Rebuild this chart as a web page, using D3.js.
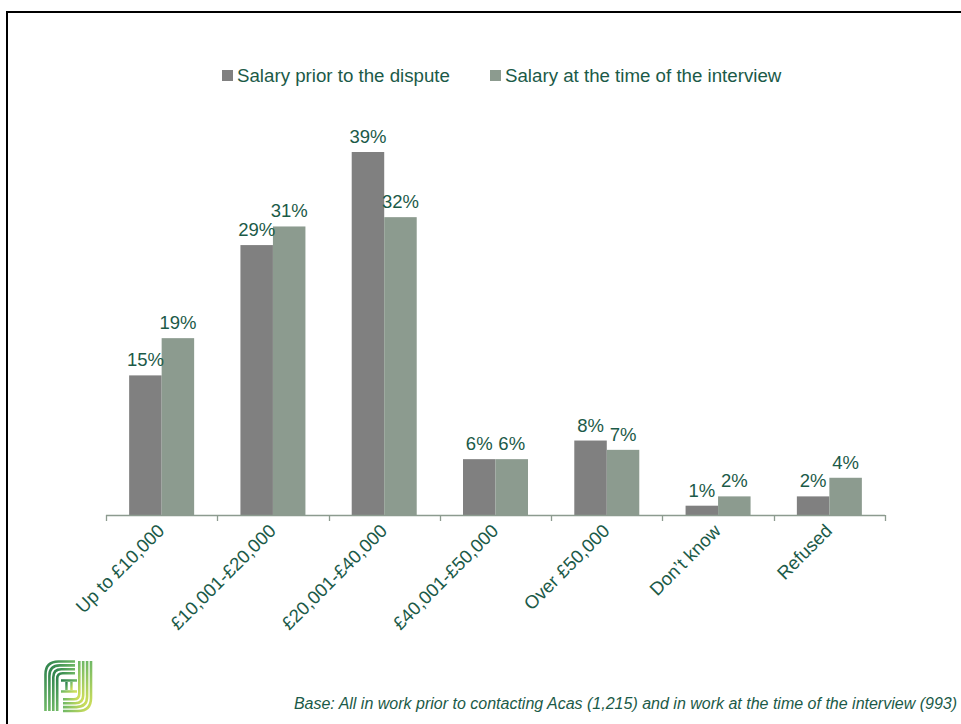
<!DOCTYPE html>
<html>
<head>
<meta charset="utf-8">
<script src="https://cdn.jsdelivr.net/npm/d3@7"></script>
<style>
  html, body { margin: 0; padding: 0; background: #fff; }
  svg { display: block; }
  text { font-family: "Liberation Sans", Arial, sans-serif; }
</style>
</head>
<body>
<script>
// Salary bands and the share of respondents in each
const categories = ["Up to £10,000", "£10,001-£20,000", "£20,001-£40,000", "£40,001-£50,000", "Over £50,000", "Don’t know", "Refused"];
const seriesNames = ["Salary prior to the dispute", "Salary at the time of the interview"];
const priorValues = [15, 29, 39, 6, 8, 1, 2];
const interviewValues = [19, 31, 32, 6, 7, 2, 4];
const footnote = "Base: All in work prior to contacting Acas (1,215) and in work at the time of the interview (993)";

const W = 961, H = 724;
const textColor = "#1b5a48";
const colors = ["#808080", "#8c9b8f"];
const axisColor = "#8c9b8f";

const svg = d3.select("body").append("svg").attr("width", W).attr("height", H);

// Slide frame
svg.append("path")
  .attr("d", "M7,724 V12 H961")
  .attr("fill", "none").attr("stroke", "#000").attr("stroke-width", 2);

const x0 = d3.scaleBand().domain(categories).range([106, 885]).paddingInner(0).paddingOuter(0);
const x1 = d3.scaleBand().domain([0, 1]).range([0, x0.bandwidth()]).paddingInner(0).paddingOuter(0.712);
const y = d3.scaleLinear().domain([0, 40]).range([515, 142.7]);

const rows = categories.map((c, i) => ({ c, vals: [priorValues[i], interviewValues[i]] }));

const g = svg.append("g");
const groups = g.selectAll("g.cat").data(rows).join("g")
  .attr("transform", d => `translate(${x0(d.c)},0)`);

groups.selectAll("rect").data(d => d.vals.map((v, k) => ({ v, k }))).join("rect")
  .attr("x", d => x1(d.k))
  .attr("width", x1.bandwidth())
  .attr("y", d => y(d.v))
  .attr("height", d => y(0) - y(d.v))
  .attr("fill", d => colors[d.k]);

groups.selectAll("text.val").data(d => d.vals.map((v, k) => ({ v, k }))).join("text")
  .attr("class", "val")
  .attr("x", d => x1(d.k) + x1.bandwidth() / 2)
  .attr("y", d => y(d.v) - 9)
  .attr("text-anchor", "middle")
  .attr("font-size", 18.5)
  .attr("fill", textColor)
  .text(d => d.v + "%");

// Category axis with ticks at band boundaries
const axisG = svg.append("g");
axisG.append("line")
  .attr("x1", 106).attr("x2", 885).attr("y1", 515.5).attr("y2", 515.5)
  .attr("stroke", axisColor).attr("stroke-width", 1.3);
const bounds = categories.map(c => x0(c)).concat([x0.range()[1]]);
axisG.selectAll("line.tick").data(bounds).join("line")
  .attr("class", "tick")
  .attr("x1", d => Math.round(d) + 0.5).attr("x2", d => Math.round(d) + 0.5)
  .attr("y1", 515).attr("y2", 521)
  .attr("stroke", axisColor).attr("stroke-width", 1.3);

axisG.selectAll("text.cat").data(categories).join("text")
  .attr("class", "cat")
  .attr("transform", d => `translate(${x0(d) + x0.bandwidth() / 2 + 4},${532}) rotate(-45)`)
  .attr("text-anchor", "end")
  .attr("font-size", 18.5)
  .attr("fill", textColor)
  .text(d => d);

// Legend
const legendX = [222, 490];
const lg = svg.append("g").selectAll("g").data(seriesNames).join("g")
  .attr("transform", (d, i) => `translate(${legendX[i]},70)`);
lg.append("rect").attr("width", 11).attr("height", 11).attr("fill", (d, i) => colors[i]);
lg.append("text").attr("x", 15).attr("y", 12)
  .attr("font-size", 18.7).attr("fill", textColor).text(d => d);

// Footnote
svg.append("text")
  .attr("x", 957).attr("y", 709)
  .attr("text-anchor", "end")
  .attr("font-size", 16)
  .attr("font-style", "italic")
  .attr("fill", textColor)
  .text(footnote);

// Logo mark
const defs = svg.append("defs");
const grad = defs.append("linearGradient").attr("id", "logoGrad")
  .attr("x1", "0%").attr("y1", "0%").attr("x2", "100%").attr("y2", "100%");
grad.append("stop").attr("offset", "0%").attr("stop-color", "#2a7f4c");
grad.append("stop").attr("offset", "50%").attr("stop-color", "#6fb866");
grad.append("stop").attr("offset", "100%").attr("stop-color", "#d8e25a");

const logo = svg.append("g").attr("transform", "translate(44,660)")
  .attr("fill", "none").attr("stroke", "url(#logoGrad)").attr("stroke-width", 2.6);
// Upper-left curved strands
[0, 1, 2, 3].forEach(i => {
  const o = 1.5 + i * 3.9;
  const r = 13 - i * 2.5;
  logo.append("path").attr("d",
    `M${31},${o} H${o + r} Q${o},${o} ${o},${o + r} V${51}`);
});
// Lower-right curved strands
[0, 1, 2, 3].forEach(i => {
  const o = 47 - i * 3.9;
  const b = 51 - i * 3.9;
  const r = 13 - i * 2.5;
  logo.append("path").attr("d",
    `M${o},${1} V${b - r} Q${o},${b} ${o - r},${b} H${19}`);
});
// Central I-beam
logo.append("path").attr("d", "M17,20.5 H33 M17,31.5 H33").attr("stroke-width", 2.6);
logo.append("path").attr("d", "M22.5,22 V30 M27.5,22 V30").attr("stroke-width", 2.4);
</script>
</body>
</html>
